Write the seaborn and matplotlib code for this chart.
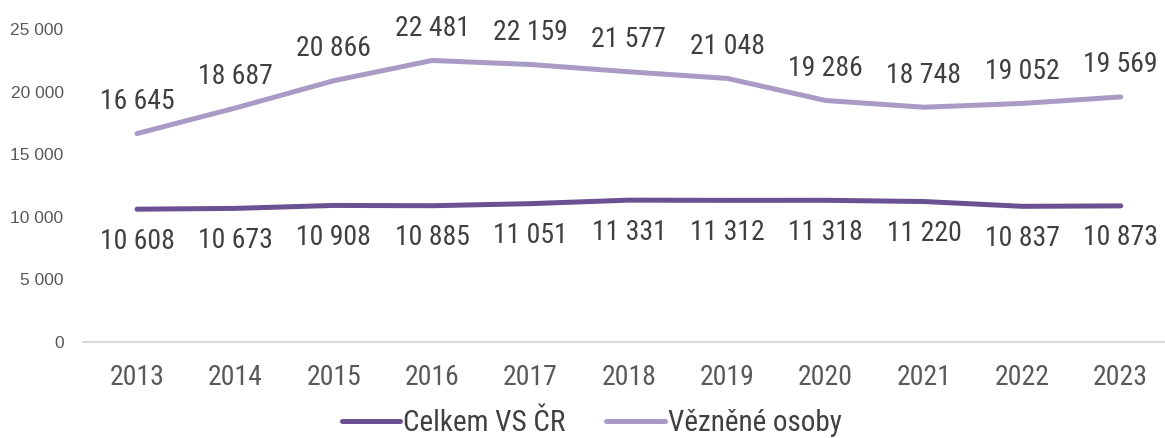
import matplotlib
matplotlib.use("Agg")
import matplotlib.pyplot as plt
import seaborn as sns
import pandas as pd
from matplotlib.lines import Line2D

years = [2013, 2014, 2015, 2016, 2017, 2018, 2019, 2020, 2021, 2022, 2023]
celkem = [10608, 10673, 10908, 10885, 11051, 11331, 11312, 11318, 11220, 10837, 10873]
vezneni = [16645, 18687, 20866, 22481, 22159, 21577, 21048, 19286, 18748, 19052, 19569]
series_names = ["Celkem VS ČR", "Vězněné osoby"]
colors = ["#6b5192", "#a99bc5"]
yticks = [0, 5000, 10000, 15000, 20000, 25000]

def fmt(v):
    return f"{v:,}".replace(",", " ")

sns.set_style("white")
narrow = ["Roboto Condensed", "Liberation Sans", "DejaVu Sans"]
plt.rcParams["font.family"] = narrow

df = pd.DataFrame({
    "year": years * 2,
    "value": celkem + vezneni,
    "series": [series_names[0]] * len(years) + [series_names[1]] * len(years),
})

fig = plt.figure(figsize=(11.65, 4.38), dpi=100)
ax = fig.add_axes([0.0712, 0.219, 0.9288, 0.715])
sns.lineplot(data=df, x="year", y="value", hue="series", palette=colors,
             linewidth=3.6, ax=ax, legend=False, solid_capstyle="round")

ax.set_xlim(years[0] - 0.55, years[-1] + 0.45)
ax.set_ylim(0, 25000)
ax.set_yticks(yticks)
ax.set_yticklabels([fmt(t) for t in yticks], fontfamily=["Liberation Sans", "DejaVu Sans"],
                   fontsize=12.5, color="#595959")
ax.set_xticks(years)
ax.set_xticklabels([str(y) for y in years], fontsize=20, color="#595959")
ax.tick_params(axis="both", length=0)
ax.tick_params(axis="x", pad=16)
ax.tick_params(axis="y", pad=14)
ax.set_xlabel("")
ax.set_ylabel("")
for s in ["top", "right", "left"]:
    ax.spines[s].set_visible(False)
ax.spines["bottom"].set_color("#d9d9d9")
ax.spines["bottom"].set_linewidth(1.5)
ax.grid(False)

for x, v in zip(years, vezneni):
    ax.annotate(fmt(v), (x, v), xytext=(0, 23), textcoords="offset points",
                ha="center", va="center", fontsize=20, color="#404040")
for x, v in zip(years, celkem):
    ax.annotate(fmt(v), (x, v), xytext=(0, -23), textcoords="offset points",
                ha="center", va="center", fontsize=20, color="#404040")

handles = [Line2D([0], [0], color=c, linewidth=3.6, solid_capstyle="round") for c in colors]
fig.legend(handles, series_names, loc="lower center", bbox_to_anchor=(0.508, -0.058),
           ncol=2, frameon=False, fontsize=21, handlelength=2.0, handletextpad=0.1,
           columnspacing=1.4, labelcolor="#404040")

fig.savefig("out.png", dpi=100)
